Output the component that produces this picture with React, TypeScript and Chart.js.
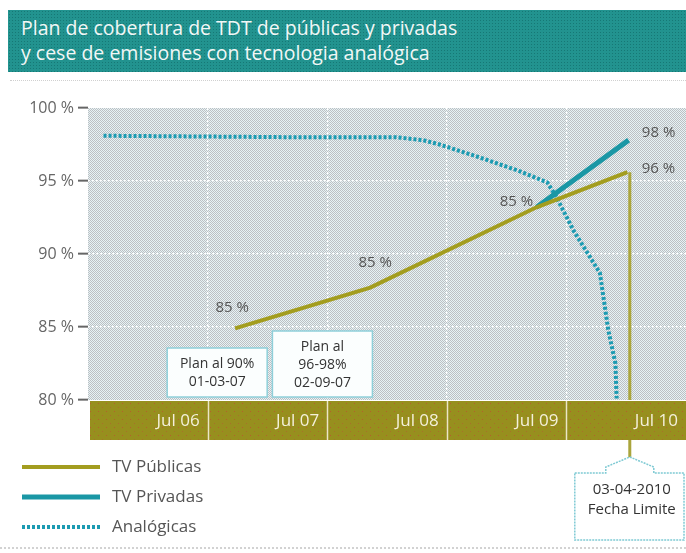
import React, { useEffect, useRef } from 'react';
import { Chart, registerables } from 'chart.js';

Chart.register(...registerables);

// ---------- data ----------
const titleLines = [
  'Plan de cobertura de TDT de públicas y privadas',
  'y cese de emisiones con tecnologia analógica',
];
const seriesNames = ['TV Públicas', 'TV Privadas', 'Analógicas'];

const xMin = 2005.5;
const xMax = 2010.5;
const xTickValues = [2006.5, 2007.5, 2008.5, 2009.5, 2010.5];
const xTickLabels = ['Jul 06', 'Jul 07', 'Jul 08', 'Jul 09', 'Jul 10'];

const yMin = 80;
const yMax = 100;
const yTickValues = [80, 85, 90, 95, 100];
const yTickLabels = ['80 %', '85 %', '90 %', '95 %', '100 %'];

const publicasX = [2006.73, 2007.86, 2009.25, 2010.01];
const publicasY = [84.9, 87.7, 93.2, 95.6];
const publicasLabels = ['85 %', '85 %', '85 %', '96 %'];

const privadasX = [2009.25, 2010.02];
const privadasY = [93.2, 97.8];
const privadasLabels = ['', '98 %'];

const analogicasX = [2005.63, 2007.19, 2008.07, 2008.3, 2008.44, 2008.78, 2009.1, 2009.34, 2009.41, 2009.56, 2009.78, 2009.85, 2009.91, 2009.92];
const analogicasY = [98.1, 98.0, 98.0, 97.8, 97.5, 96.6, 95.7, 94.9, 94.0, 91.6, 88.7, 84.8, 82.5, 80.1];

const deadlineX = 2010.03;
const deadlineLines = ['03-04-2010', 'Fecha Limite'];

const planNoteX = [2006.58, 2007.46];
const planNoteLines = [
  ['Plan al 90%', '01-03-07'],
  ['Plan al', '96-98%', '02-09-07'],
];

// ---------- styles ----------
const FONT = '"Open Sans", "Noto Sans", sans-serif';
const OLIVE = '#a39d1f';
const TEAL = '#1a97a5';
const TEAL_DOT = '#1c9bb2';
const TEXT = '#555555';
const publicasOffsets = [[-3, -21], [5, -25], [-20, -6], [31, -4]];
const privadasOffsets = [[0, 0], [30, -7]];

function makePattern(size: number, base: string, dots: [number, number, string][]) {
  const c = document.createElement('canvas');
  c.width = size;
  c.height = size;
  const g = c.getContext('2d')!;
  g.fillStyle = base;
  g.fillRect(0, 0, size, size);
  dots.forEach(([x, y, col]) => {
    g.fillStyle = col;
    g.fillRect(x, y, 1, 1);
  });
  return g.createPattern(c, 'repeat')!;
}

function line(ctx: CanvasRenderingContext2D, x1: number, y1: number, x2: number, y2: number) {
  ctx.beginPath();
  ctx.moveTo(x1, y1);
  ctx.lineTo(x2, y2);
  ctx.stroke();
}

export default function App() {
  const ref = useRef<HTMLCanvasElement | null>(null);

  useEffect(() => {
    const canvas = ref.current;
    if (!canvas) return;

    const plotPattern = makePattern(2, '#e6f3f5', [[0, 0, '#bdbfc3'], [1, 1, '#bdbfc3']]);
    const bandPattern = makePattern(8, '#978f1e', [[2, 3, '#b4602c'], [6, 7, '#a8702a']]);

    const decorPlugin = {
      id: 'decor',
      beforeDraw(chart: any) {
        const { ctx, chartArea: a, scales } = chart;
        const x = scales.x;
        ctx.save();
        ctx.fillStyle = plotPattern;
        ctx.fillRect(a.left, a.top, a.right - a.left, a.bottom - a.top);
        ctx.fillStyle = bandPattern;
        ctx.fillRect(a.left + 2, a.bottom + 1, a.right - a.left - 2, 39);
        ctx.strokeStyle = '#ebe6c6';
        ctx.lineWidth = 1.5;
        xTickValues.forEach((v) => {
          const px = Math.round(x.getPixelForValue(v)) + 0.5;
          if (px < a.right - 3) line(ctx, px, a.bottom + 1, px, a.bottom + 40);
        });
        ctx.restore();
      },
      afterDatasetsDraw(chart: any) {
        const { ctx, chartArea: a, scales } = chart;
        const x = scales.x;
        const y = scales.y;
        ctx.save();

        // deadline vertical line
        const dx = x.getPixelForValue(deadlineX);
        ctx.strokeStyle = '#aaa53c';
        ctx.lineWidth = 3;
        line(ctx, dx, y.getPixelForValue(publicasY[publicasY.length - 1]), dx, a.bottom);
        line(ctx, dx, a.bottom + 40, dx, a.bottom + 58);

        // data labels
        ctx.font = `15px ${FONT}`;
        ctx.fillStyle = TEXT;
        ctx.textAlign = 'center';
        ctx.textBaseline = 'middle';
        publicasLabels.forEach((t, i) => {
          if (!t) return;
          ctx.fillText(t, x.getPixelForValue(publicasX[i]) + publicasOffsets[i][0], y.getPixelForValue(publicasY[i]) + publicasOffsets[i][1]);
        });
        privadasLabels.forEach((t, i) => {
          if (!t) return;
          ctx.fillText(t, x.getPixelForValue(privadasX[i]) + privadasOffsets[i][0], y.getPixelForValue(privadasY[i]) + privadasOffsets[i][1]);
        });

        // plan notes
        planNoteLines.forEach((lines, i) => {
          const cx = x.getPixelForValue(planNoteX[i]);
          const bottom = y.getPixelForValue(yMin) - 3;
          const h = lines.length * 17 + 15;
          const w = 100;
          ctx.fillStyle = '#fbfefe';
          ctx.fillRect(cx - w / 2, bottom - h, w, h);
          ctx.strokeStyle = '#8fd0da';
          ctx.lineWidth = 1.5;
          ctx.setLineDash([]);
          ctx.strokeRect(cx - w / 2, bottom - h, w, h);
          ctx.fillStyle = '#333333';
          ctx.font = `14px ${FONT}`;
          lines.forEach((t, j) => {
            ctx.fillText(t, cx, bottom - h + 16 + j * 18);
          });
        });

        // deadline callout
        const top = a.bottom + 73;
        const peak = a.bottom + 57;
        const left = dx - 55;
        const right = a.right - 2;
        const bot = a.bottom + 140;
        ctx.beginPath();
        ctx.moveTo(left, top);
        ctx.lineTo(dx - 24, top);
        ctx.lineTo(dx - 24, top - 6);
        ctx.lineTo(dx, peak);
        ctx.lineTo(dx + 24, top - 6);
        ctx.lineTo(dx + 24, top);
        ctx.lineTo(right, top);
        ctx.lineTo(right, bot);
        ctx.lineTo(left, bot);
        ctx.closePath();
        ctx.fillStyle = '#ffffff';
        ctx.fill();
        ctx.strokeStyle = '#7fcad4';
        ctx.lineWidth = 1.5;
        ctx.setLineDash([2, 1]);
        ctx.stroke();
        ctx.setLineDash([]);
        ctx.fillStyle = '#333333';
        ctx.font = `15px ${FONT}`;
        deadlineLines.forEach((t, j) => {
          ctx.fillText(t, dx + 2, top + 17 + j * 20);
        });

        // legend
        chart.data.datasets.forEach((ds: any, i: number) => {
          const ly = 467 + i * 30;
          ctx.strokeStyle = ds.borderColor;
          ctx.lineWidth = ds.borderWidth;
          ctx.setLineDash(ds.borderDash || []);
          line(ctx, 22, ly, 100, ly);
          ctx.setLineDash([]);
          ctx.fillStyle = TEXT;
          ctx.font = `17px ${FONT}`;
          ctx.textAlign = 'left';
          ctx.fillText(ds.label, 112, ly);
        });

        // bottom dotted rule
        ctx.strokeStyle = '#c4c4c4';
        ctx.lineWidth = 1.5;
        ctx.setLineDash([2, 2]);
        line(ctx, 0, 548, a.right, 548);
        ctx.restore();
      },
    };

    const chart = new Chart(canvas, {
      type: 'line',
      data: {
        datasets: [
          {
            label: seriesNames[0],
            data: publicasX.map((v, i) => ({ x: v, y: publicasY[i] })),
            borderColor: OLIVE,
            borderWidth: 4,
            pointRadius: 0,
            tension: 0,
          },
          {
            label: seriesNames[1],
            data: privadasX.map((v, i) => ({ x: v, y: privadasY[i] })),
            borderColor: TEAL,
            borderWidth: 5,
            pointRadius: 0,
            tension: 0,
          },
          {
            label: seriesNames[2],
            data: analogicasX.map((v, i) => ({ x: v, y: analogicasY[i] })),
            borderColor: TEAL_DOT,
            borderWidth: 4,
            borderDash: [3, 2],
            pointRadius: 0,
            tension: 0,
          },
        ],
      },
      options: {
        responsive: false,
        animation: false,
        layout: { padding: { top: 108, left: 0, right: 0, bottom: 0 } },
        plugins: {
          legend: { display: false },
          title: { display: false },
          tooltip: { enabled: false },
        },
        scales: {
          x: {
            type: 'linear',
            min: xMin,
            max: xMax,
            afterBuildTicks: (s: any) => {
              s.ticks = xTickValues.map((v) => ({ value: v }));
            },
            afterFit: (s: any) => {
              s.height = 153;
              s.paddingLeft = 0;
              s.paddingRight = 0;
            },
            ticks: {
              callback: (v: any) => xTickLabels[xTickValues.indexOf(Number(v))] ?? '',
              align: 'end',
              labelOffset: -8,
              padding: 11,
              color: '#f4f1da',
              font: { family: FONT, size: 17 },
              maxRotation: 0,
              autoSkip: false,
            },
            grid: {
              color: (c: any) => (c.tick && c.tick.value >= xMax ? 'rgba(0,0,0,0)' : '#ffffff'),
              lineWidth: 1.3,
              drawTicks: false,
            },
            border: { display: false, dash: [2, 2] },
          },
          y: {
            min: yMin,
            max: yMax,
            afterBuildTicks: (s: any) => {
              s.ticks = yTickValues.map((v) => ({ value: v }));
            },
            afterFit: (s: any) => {
              s.width = 88;
              s.paddingTop = 0;
              s.paddingBottom = 0;
            },
            ticks: {
              callback: (v: any) => yTickLabels[yTickValues.indexOf(Number(v))] ?? '',
              color: '#666666',
              font: { family: FONT, size: 16 },
              padding: 4,
            },
            grid: {
              color: (c: any) => (c.tick && (c.tick.value <= yMin || c.tick.value >= yMax) ? 'rgba(0,0,0,0)' : '#ffffff'),
              lineWidth: 1.3,
              tickLength: 10,
              tickColor: '#666666',
              tickWidth: 2,
            },
            border: { display: false, dash: [2, 2] },
          },
        },
      },
      plugins: [decorPlugin],
    } as any);

    return () => chart.destroy();
  }, []);

  return (
    <div style={{ position: 'absolute', left: 0, top: 0, width: 686, height: 553, overflow: 'hidden', background: '#fff' }}>
      <canvas ref={ref} width={686} height={553} style={{ position: 'absolute', left: 0, top: 0, display: 'block' }} />
      <div
        style={{
          position: 'absolute',
          left: 8,
          top: 10,
          width: 678,
          height: 62,
          boxSizing: 'border-box',
          padding: '5px 0 0 13px',
          backgroundColor: '#22938f',
          backgroundImage: 'radial-gradient(rgba(0,70,70,0.35) 0.7px, transparent 1px)',
          backgroundSize: '3px 3px',
          color: '#f2f7f6',
          fontFamily: FONT,
          fontSize: 19.5,
          lineHeight: '25px',
          whiteSpace: 'nowrap',
        }}
      >
        {titleLines.map((t) => (
          <div key={t}>{t}</div>
        ))}
      </div>
      <div style={{ position: 'absolute', left: 10, top: 80, width: 676, borderTop: '1px dotted #d0d0d0' }} />
    </div>
  );
}
